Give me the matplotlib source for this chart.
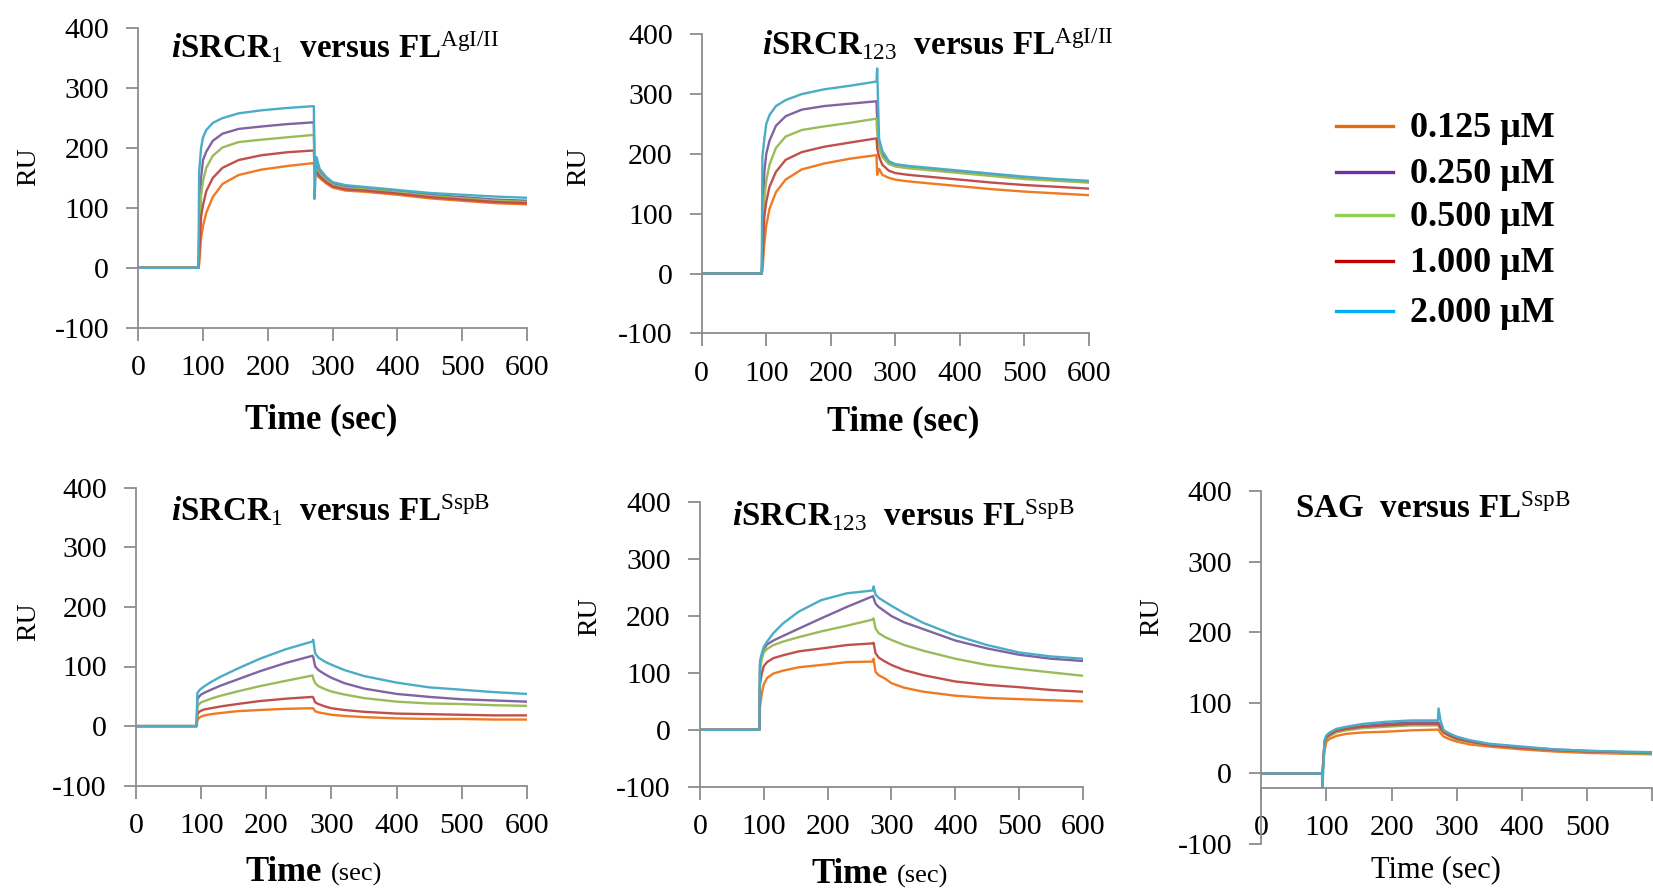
import matplotlib
matplotlib.use('Agg')
import matplotlib.pyplot as plt
from matplotlib.lines import Line2D

W, H = 1653, 890

plt.rcParams['font.family'] = 'Liberation Serif'
plt.rcParams['axes.unicode_minus'] = False
plt.rcParams['mathtext.fontset'] = 'custom'
plt.rcParams['mathtext.rm'] = 'Liberation Serif'
plt.rcParams['mathtext.bf'] = 'Liberation Serif:bold'
plt.rcParams['mathtext.it'] = 'Liberation Serif:italic:bold'

# time points (sec)
time_s = [0, 93, 94, 97, 100, 105, 115, 130, 155, 190, 230, 271, 272, 275,
          280, 290, 300, 320, 350, 400, 450, 500, 550, 600]

conc_labels = ['0.125 μM', '0.250 μM', '0.500 μM', '1.000 μM', '2.000 μM']
line_colors = ['#F07A22', '#8064A2', '#9BBB59', '#C0504D', '#4BACC6']
legend_colors = ['#E46C0A', '#7030A0', '#92D050', '#C00000', '#00B0F0']

# RU per curve, order: orange, purple, green, red, cyan
srcr1_agi = [
    [0, 0, 5, 50, 70, 92, 118, 140, 155, 164, 170, 175, 160, 155, 150, 141, 134, 129, 127, 122, 116, 112, 108, 106],
    [0, 0, 60, 150, 180, 194, 212, 224, 232, 236, 240, 243, 180, 170, 160, 148, 140, 135, 133, 128, 122, 118, 114, 112],
    [0, 0, 40, 120, 145, 167, 187, 201, 210, 214, 218, 222, 175, 165, 157, 146, 138, 133, 131, 126, 120, 116, 112, 110],
    [0, 0, 20, 85, 105, 128, 150, 167, 180, 188, 193, 196, 165, 160, 153, 143, 136, 131, 129, 124, 118, 114, 110, 108],
    [0, 0, 160, 200, 218, 230, 242, 250, 258, 263, 267, 270, 115, 185, 165, 152, 143, 138, 135, 130, 125, 122, 119, 117],
]
srcr123_agi = [
    [0, 0, 5, 50, 80, 108, 136, 157, 174, 184, 192, 198, 165, 175, 165, 160, 157, 154, 151, 146, 141, 137, 134, 131],
    [0, 0, 60, 170, 200, 222, 247, 263, 274, 280, 284, 288, 260, 220, 200, 186, 181, 178, 175, 170, 165, 160, 156, 153],
    [0, 0, 40, 125, 155, 182, 210, 229, 240, 246, 252, 259, 235, 212, 195, 183, 179, 176, 173, 168, 163, 158, 155, 152],
    [0, 0, 20, 95, 120, 145, 170, 190, 203, 212, 219, 226, 210, 195, 182, 172, 168, 165, 162, 157, 152, 148, 145, 142],
    [0, 0, 195, 225, 250, 265, 280, 290, 300, 308, 314, 321, 343, 225, 205, 188, 183, 180, 177, 172, 167, 162, 158, 155],
]
srcr1_sspb = [
    [0, 0, 10, 14, 16, 18, 20, 22, 25, 27, 29, 30, 30, 25, 23, 21, 19, 17, 15, 13, 12, 12, 11, 11],
    [0, 0, 45, 50, 53, 56, 61, 68, 78, 92, 106, 118, 116, 100, 94, 87, 81, 72, 63, 54, 49, 45, 43, 41],
    [0, 0, 33, 37, 40, 42, 46, 51, 58, 67, 76, 85, 80, 72, 67, 62, 58, 53, 47, 41, 38, 37, 35, 34],
    [0, 0, 20, 24, 26, 28, 30, 33, 37, 42, 46, 49, 48, 40, 37, 33, 30, 27, 24, 21, 20, 19, 18, 18],
    [0, 0, 55, 60, 63, 67, 74, 83, 96, 113, 129, 142, 145, 122, 115, 108, 103, 94, 84, 73, 65, 61, 57, 54],
]
srcr123_sspb = [
    [0, 0, 40, 65, 80, 91, 99, 104, 110, 114, 119, 120, 125, 102, 96, 90, 82, 74, 67, 60, 56, 54, 52, 50],
    [0, 0, 115, 132, 142, 150, 157, 165, 178, 196, 216, 235, 232, 222, 216, 208, 200, 189, 177, 157, 143, 132, 125, 121],
    [0, 0, 105, 125, 136, 142, 149, 155, 163, 173, 183, 194, 196, 178, 170, 163, 158, 149, 139, 125, 114, 107, 101, 95],
    [0, 0, 80, 100, 112, 119, 126, 131, 138, 143, 149, 152, 153, 135, 127, 120, 114, 105, 96, 85, 79, 75, 70, 67],
    [0, 0, 120, 135, 146, 155, 170, 187, 208, 228, 240, 245, 252, 238, 232, 225, 218, 205, 188, 166, 149, 136, 129, 125],
]
sag_sspb = [
    [0, 0, 0, 33, 45, 49, 53, 56, 58, 59, 61, 62, 62, 57, 52, 48, 45, 41, 38, 34, 31, 29, 28, 27],
    [0, 0, 0, 45, 52, 56, 61, 64, 67, 70, 72, 72, 72, 66, 59, 54, 50, 46, 41, 37, 34, 32, 30, 29],
    [0, 0, 0, 42, 49, 53, 58, 61, 64, 66, 68, 68, 68, 62, 57, 52, 48, 44, 40, 36, 33, 31, 29, 28],
    [0, 0, 0, 44, 51, 55, 60, 63, 66, 68, 70, 70, 70, 64, 58, 53, 49, 45, 40, 36, 33, 31, 30, 29],
    [0, 0, -20, 47, 54, 58, 63, 66, 70, 73, 75, 75, 92, 75, 61, 56, 52, 47, 42, 38, 34, 32, 31, 30],
]

title_r1_agi = r'$\mathit{i}\mathbf{SRCR}_{\mathrm{1}}\ \ \mathbf{versus\ FL}^{\mathrm{AgI/II}}$'
title_r123_agi = r'$\mathit{i}\mathbf{SRCR}_{\mathrm{123}}\ \ \mathbf{versus\ FL}^{\mathrm{AgI/II}}$'
title_r1_sspb = r'$\mathit{i}\mathbf{SRCR}_{\mathrm{1}}\ \ \mathbf{versus\ FL}^{\mathrm{SspB}}$'
title_r123_sspb = r'$\mathit{i}\mathbf{SRCR}_{\mathrm{123}}\ \ \mathbf{versus\ FL}^{\mathrm{SspB}}$'
title_sag = r'$\mathbf{SAG\ \ versus\ FL}^{\mathrm{SspB}}$'


def fx(x):
    return x / W


def fy(y):
    return 1 - y / H


fig = plt.figure(figsize=(W / 100, H / 100), dpi=100)

# left, right, top(400), bottom(-100) in pixels; title pos; RU pos; xlabel style
panels = [
    dict(data=srcr1_agi, box=(138.2, 527.1, 28.3, 327.7), title=title_r1_agi, tpos=(171.4, 58),
         ru=(28.6, 167), xl='bold', xpos=(321.4, 428)),
    dict(data=srcr123_agi, box=(701.8, 1088.6, 34.3, 333.3), title=title_r123_agi, tpos=(762.5, 55),
         ru=(578.6, 167), xl='bold', xpos=(903.6, 430)),
    dict(data=srcr1_sspb, box=(136.1, 526.8, 487.7, 785.7), title=title_r1_sspb, tpos=(171.4, 521),
         ru=(28.6, 622), xl='mixed', xpos=(321.4, 881)),
    dict(data=srcr123_sspb, box=(700, 1082.9, 502.3, 786.7), title=title_r123_sspb, tpos=(732, 526),
         ru=(589.3, 617), xl='mixed', xpos=(887.5, 883)),
    dict(data=sag_sspb, box=(1261.3, 1652.3, 491, 844), title=title_sag, tpos=(1295.2, 518),
         ru=(1152.2, 617), xl='plain', xpos=(1436.2, 877)),
]

axis_gray = '#8C8C8C'

for i, p in enumerate(panels):
    l, r, t, b = p['box']
    ax = fig.add_axes([fx(l), fy(b), (r - l) / W, (b - t) / H])
    for vals, c in zip(p['data'], line_colors):
        ax.plot(time_s, vals, color=c, lw=1.7, solid_joinstyle='round')
    ax.set_xlim(0, 600)
    ax.set_ylim(-100, 400)
    ax.set_xticks(range(0, 601, 100))
    ax.set_yticks(range(-100, 401, 100))
    if i == 4:
        ax.spines['bottom'].set_position(('data', -20))
        ax.set_xticklabels(['0', '100', '200', '300', '400', '500', ''])
    for s in ['top', 'right']:
        ax.spines[s].set_visible(False)
    for s in ['left', 'bottom']:
        ax.spines[s].set_color(axis_gray)
        ax.spines[s].set_linewidth(1.3)
    ax.tick_params(direction='out', length=9, width=1.3, color=axis_gray,
                   labelsize=21.5)
    ax.tick_params(axis='x', pad=11)
    ax.tick_params(axis='y', pad=12)
    ax.patch.set_alpha(0)

    fig.text(fx(p['tpos'][0]), fy(p['tpos'][1]), p['title'], fontsize=23.8,
             ha='left', va='baseline')
    fig.text(fx(p['ru'][0]), fy(p['ru'][1]), 'RU', fontsize=20, rotation=90,
             ha='center', va='center')
    xx, yy = p['xpos']
    if p['xl'] == 'bold':
        fig.text(fx(xx), fy(yy), 'Time (sec)', fontsize=25, fontweight='bold',
                 ha='center', va='baseline')
    elif p['xl'] == 'mixed':
        fig.text(fx(xx), fy(yy), 'Time', fontsize=25, fontweight='bold',
                 ha='right', va='baseline')
        fig.text(fx(xx + 9), fy(yy), '(sec)', fontsize=19,
                 ha='left', va='baseline')
    else:
        fig.text(fx(xx), fy(yy), 'Time (sec)', fontsize=22,
                 ha='center', va='baseline')

# legend drawn as separate lines and labels
leg_y = [126, 172, 215, 261, 311]
for yy, c, lab in zip(leg_y, legend_colors, conc_labels):
    fig.add_artist(Line2D([fx(1336), fx(1393)], [fy(yy), fy(yy)], color=c, lw=2.4))
    fig.text(fx(1410), fy(yy + 11), lab, fontsize=26, fontweight='bold',
             ha='left', va='baseline')

fig.savefig('out.png', dpi=100)
